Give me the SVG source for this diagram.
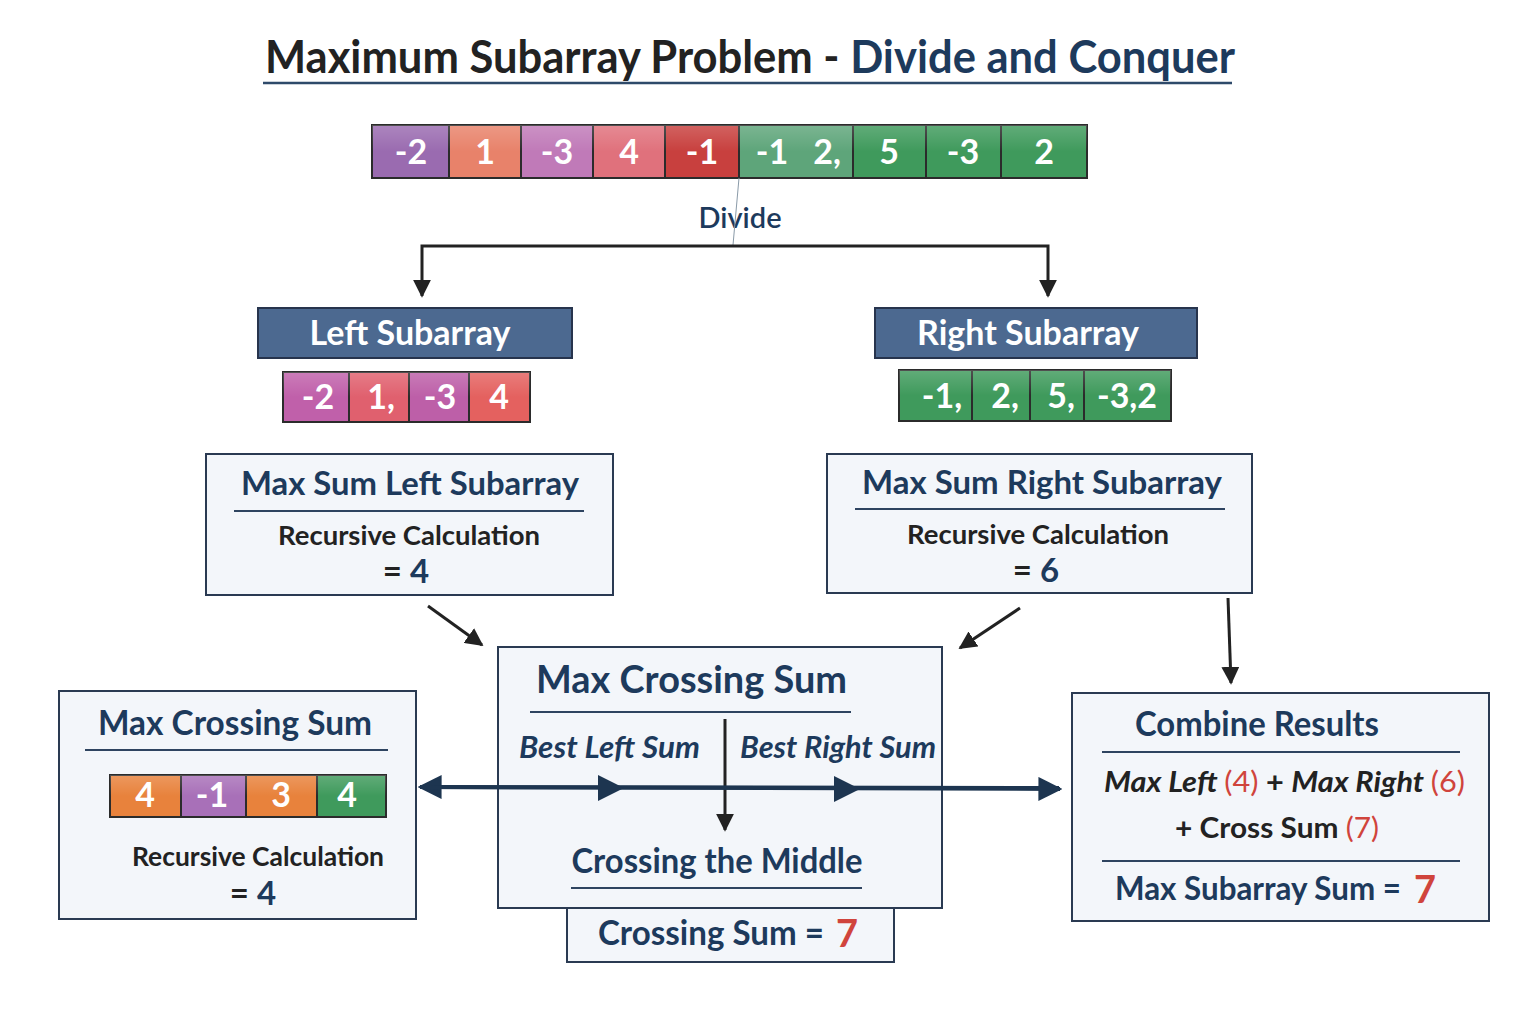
<svg xmlns="http://www.w3.org/2000/svg" width="1536" height="1024" viewBox="0 0 1536 1024">
<style>
text{font-family:Lato,"Open Sans","Liberation Sans",sans-serif;font-weight:bold}
.cell{stroke:#2b2b2b;stroke-width:2}
.ct{fill:#fff;font-size:34px;text-anchor:middle}
.box{fill:#f3f6fa;stroke:#2a3a52;stroke-width:2}
.hdr{fill:#4c6990;stroke:#27344d;stroke-width:2}
.navy{fill:#1d3a5c}
.dark{fill:#222}
.red{fill:#d0443c}
.rule{stroke:#2e4460;stroke-width:2}
.conn{stroke:#222;stroke-width:3;fill:none}
.it{font-style:italic}
</style>
<defs>
<marker id="ah" viewBox="0 0 10 10" refX="9" refY="5" markerWidth="6" markerHeight="6" orient="auto"><path d="M0,0 L10,5 L0,10 z" fill="#222"/></marker>
<marker id="ahn" viewBox="0 0 10 10" refX="9" refY="5" markerWidth="6" markerHeight="6" orient="auto"><path d="M0,0 L10,5 L0,10 z" fill="#1d3550"/></marker>
<linearGradient id="gsh" x1="0" y1="0" x2="0" y2="1"><stop offset="0" stop-color="#fff" stop-opacity="0.18"/><stop offset="0.5" stop-color="#fff" stop-opacity="0"/></linearGradient>
</defs>
<rect width="1536" height="1024" fill="#fff"/>

<g id="title">
<text x="265" y="73" font-size="46" textLength="970" lengthAdjust="spacingAndGlyphs"><tspan class="dark">Maximum Subarray Problem - </tspan><tspan class="navy">Divide and Conquer</tspan></text>
<line x1="263" y1="83" x2="1232" y2="83" stroke="#2e4a6a" stroke-width="2.5"/>
</g>

<g id="main-array">
<rect class="cell" x="372" y="125" width="77" height="53" fill="#9a6bb0"/>
<rect class="cell" x="449" y="125" width="72" height="53" fill="#e8826a"/>
<rect class="cell" x="521" y="125" width="72" height="53" fill="#c07ab8"/>
<rect class="cell" x="593" y="125" width="72" height="53" fill="#e0717c"/>
<rect class="cell" x="665" y="125" width="74" height="53" fill="#c8403e"/>
<rect class="cell" x="739" y="125" width="114" height="53" fill="#5ea57a"/>
<rect class="cell" x="853" y="125" width="73" height="53" fill="#3f9a5c"/>
<rect class="cell" x="926" y="125" width="75" height="53" fill="#3f9a5c"/>
<rect class="cell" x="1001" y="125" width="86" height="53" fill="#3f9a5c"/>
<rect x="372" y="125" width="715" height="53" fill="url(#gsh)"/>
<text class="ct" x="411" y="164">-2</text>
<text class="ct" x="485" y="164">1</text>
<text class="ct" x="557" y="164">-3</text>
<text class="ct" x="629" y="164">4</text>
<text class="ct" x="702" y="164">-1</text>
<text class="ct" x="772" y="164">-1</text>
<text class="ct" x="827" y="164">2,</text>
<text class="ct" x="889" y="164">5</text>
<text class="ct" x="963" y="164">-3</text>
<text class="ct" x="1044" y="164">2</text>
</g>

<g id="divide-label">
<text x="740" y="228" font-size="29" text-anchor="middle" class="navy" style="font-weight:600">Divide</text>
</g>

<g id="left-subarray">
<rect class="hdr" x="258" y="308" width="314" height="50"/>
<text x="410" y="345" font-size="34" fill="#fff" text-anchor="middle">Left Subarray</text>
<rect class="cell" x="283" y="372" width="66" height="50" fill="#c060aa"/>
<rect class="cell" x="349" y="372" width="60" height="50" fill="#e0606e"/>
<rect class="cell" x="409" y="372" width="60" height="50" fill="#bd5fa8"/>
<rect class="cell" x="469" y="372" width="61" height="50" fill="#e4615f"/>
<rect x="283" y="372" width="247" height="50" fill="url(#gsh)"/>
<text class="ct" x="318" y="409">-2</text>
<text class="ct" x="381" y="409">1,</text>
<text class="ct" x="440" y="409">-3</text>
<text class="ct" x="499" y="409">4</text>
</g>

<g id="right-subarray">
<rect class="hdr" x="875" y="308" width="322" height="50"/>
<text x="1028" y="345" font-size="34" fill="#fff" text-anchor="middle">Right Subarray</text>
<rect class="cell" x="899" y="370" width="73" height="51" fill="#3f9a5c"/>
<rect class="cell" x="972" y="370" width="58" height="51" fill="#3f9a5c"/>
<rect class="cell" x="1030" y="370" width="54" height="51" fill="#3f9a5c"/>
<rect class="cell" x="1084" y="370" width="87" height="51" fill="#3f9a5c"/>
<rect x="899" y="370" width="272" height="51" fill="url(#gsh)"/>
<text class="ct" x="942" y="408">-1,</text>
<text class="ct" x="1005" y="408">2,</text>
<text class="ct" x="1061" y="408">5,</text>
<text class="ct" x="1127" y="408">-3,2</text>
</g>

<g id="max-left">
<rect class="box" x="206" y="454" width="407" height="141"/>
<text x="410" y="495" font-size="32" text-anchor="middle" class="navy" textLength="338" lengthAdjust="spacingAndGlyphs">Max Sum Left Subarray</text>
<line class="rule" x1="234" y1="511" x2="584" y2="511"/>
<text x="409" y="545" font-size="27" text-anchor="middle" class="dark" textLength="262" lengthAdjust="spacingAndGlyphs">Recursive Calculation</text>
<text x="406" y="583" font-size="33" text-anchor="middle"><tspan class="dark">= </tspan><tspan class="navy">4</tspan></text>
</g>

<g id="max-right">
<rect class="box" x="827" y="454" width="425" height="139"/>
<text x="1042" y="494" font-size="32" text-anchor="middle" class="navy" textLength="360" lengthAdjust="spacingAndGlyphs">Max Sum Right Subarray</text>
<line class="rule" x1="855" y1="509" x2="1225" y2="509"/>
<text x="1038" y="544" font-size="27" text-anchor="middle" class="dark" textLength="262" lengthAdjust="spacingAndGlyphs">Recursive Calculation</text>
<text x="1036" y="582" font-size="33" text-anchor="middle"><tspan class="dark">= </tspan><tspan class="navy">6</tspan></text>
</g>

<g id="cross-left">
<rect class="box" x="59" y="691" width="357" height="228"/>
<text x="235" y="735" font-size="34" text-anchor="middle" class="navy" textLength="274" lengthAdjust="spacingAndGlyphs">Max Crossing Sum</text>
<line class="rule" x1="85" y1="750" x2="388" y2="750"/>
<rect class="cell" x="110" y="775" width="71" height="42" fill="#e8823c"/>
<rect class="cell" x="181" y="775" width="65" height="42" fill="#a870b8"/>
<rect class="cell" x="246" y="775" width="71" height="42" fill="#e8823c"/>
<rect class="cell" x="317" y="775" width="69" height="42" fill="#3f9a5c"/>
<rect x="110" y="775" width="276" height="42" fill="url(#gsh)"/>
<text class="ct" x="145" y="807" font-size="32">4</text>
<text class="ct" x="212" y="807" font-size="32">-1</text>
<text class="ct" x="281" y="807" font-size="32">3</text>
<text class="ct" x="347" y="807" font-size="32">4</text>
<text x="258" y="866" font-size="27" text-anchor="middle" class="dark" textLength="252" lengthAdjust="spacingAndGlyphs">Recursive Calculation</text>
<text x="253" y="905" font-size="33" text-anchor="middle"><tspan class="dark">= </tspan><tspan class="navy">4</tspan></text>
</g>

<g id="cross-center">
<rect class="box" x="498" y="647" width="444" height="261"/>
<text x="536" y="693" font-size="38" class="navy" textLength="311" lengthAdjust="spacingAndGlyphs">Max Crossing Sum</text>
<line class="rule" x1="530" y1="712" x2="851" y2="712"/>
<text x="519" y="758" font-size="30" class="navy it" textLength="181" lengthAdjust="spacingAndGlyphs">Best Left Sum</text>
<text x="740" y="758" font-size="30" class="navy it" textLength="196" lengthAdjust="spacingAndGlyphs">Best Right Sum</text>
<text x="717" y="873" font-size="34" text-anchor="middle" class="navy" textLength="291" lengthAdjust="spacingAndGlyphs">Crossing the Middle</text>
<line class="rule" x1="571" y1="888" x2="862" y2="888"/>
</g>

<g id="crossing-sum">
<rect class="box" x="567" y="908" width="327" height="54"/>
<text x="598" y="945" font-size="34" class="navy" textLength="226" lengthAdjust="spacingAndGlyphs">Crossing Sum  =</text>
<text x="836" y="947" font-size="38" class="red">7</text>
</g>

<g id="combine">
<rect class="box" x="1072" y="693" width="417" height="228"/>
<text x="1257" y="736" font-size="34" text-anchor="middle" class="navy" textLength="244" lengthAdjust="spacingAndGlyphs">Combine Results</text>
<line class="rule" x1="1102" y1="752" x2="1460" y2="752"/>
<text x="1104" y="792" font-size="28" textLength="361" lengthAdjust="spacingAndGlyphs"><tspan class="dark it">Max Left </tspan><tspan class="red" style="font-weight:normal">(4)</tspan><tspan class="dark">  + </tspan><tspan class="dark it">Max Right </tspan><tspan class="red" style="font-weight:normal">(6)</tspan></text>
<text x="1175" y="838" font-size="28" textLength="204" lengthAdjust="spacingAndGlyphs"><tspan class="dark">+ Cross Sum  </tspan><tspan class="red" style="font-weight:normal">(7)</tspan></text>
<line class="rule" x1="1102" y1="861" x2="1460" y2="861"/>
<text x="1115" y="900" font-size="32" class="navy" textLength="286" lengthAdjust="spacingAndGlyphs">Max Subarray Sum  =</text>
<text x="1414" y="903" font-size="38" class="red">7</text>
</g>

<g id="connectors">
<line x1="739" y1="178" x2="733" y2="245" stroke="#8a9aa8" stroke-width="1"/>
<path class="conn" d="M734,246 H422 V296" marker-end="url(#ah)"/>
<path class="conn" d="M734,246 H1048 V296" marker-end="url(#ah)"/>
<line class="conn" x1="428" y1="606" x2="482" y2="645" marker-end="url(#ah)"/>
<line class="conn" x1="1020" y1="608" x2="960" y2="648" marker-end="url(#ah)"/>
<line class="conn" x1="1228" y1="598" x2="1231" y2="683" marker-end="url(#ah)"/>
<line x1="725" y1="719" x2="725" y2="830" class="conn" stroke-width="2.5" marker-end="url(#ah)"/>
<line x1="1059" y1="788" x2="420" y2="787" stroke="#1d3550" stroke-width="4" marker-end="url(#ahn)"/>
<line x1="420" y1="787" x2="1060" y2="789" stroke="#1d3550" stroke-width="4" marker-end="url(#ahn)"/>
<path d="M598,775 L624,788 L598,801 z" fill="#1d3550"/>
<path d="M834,776 L860,789 L834,802 z" fill="#1d3550"/>
</g>
</svg>
